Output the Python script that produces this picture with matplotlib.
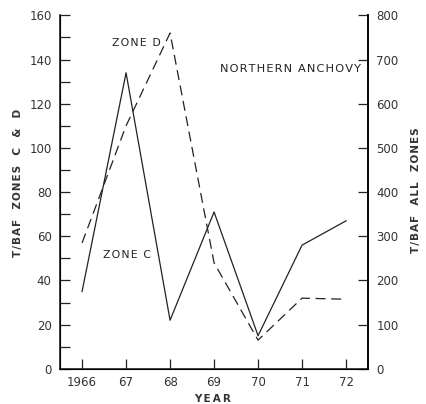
import matplotlib
matplotlib.use("Agg")
import matplotlib.pyplot as plt
from matplotlib.ticker import MultipleLocator

years = [1966, 1967, 1968, 1969, 1970, 1971, 1972]
year_labels = ["1966", "67", "68", "69", "70", "71", "72"]
zone_c = [35, 134, 22, 71, 15, 56, 67]
zone_d = [57, 110, 152, 48, 13, 32, 31.5]

plt.rcParams['font.family'] = ['DejaVu Sans']


def spaced(s, gap='\u200a'):
    # widen letter spacing like the old typeset labels
    return gap.join(s)


fig = plt.figure(figsize=(4.26, 4.04), dpi=100)
ax = fig.add_axes([0.141, 0.087, 0.723, 0.875])

ax.plot(years, zone_c, color='#222222', linewidth=0.9)
ax.plot(years, zone_d, color='#222222', linewidth=0.9, dashes=(8, 4.5))

ax.set_xlim(1965.5, 1972.5)
ax.set_ylim(0, 160)
ax.set_xticks(years)
ax.set_xticklabels(year_labels)
ax.yaxis.set_major_locator(MultipleLocator(20))
ax.yaxis.set_minor_locator(MultipleLocator(10))
ax.spines['top'].set_visible(False)
for s in ['left', 'bottom', 'right']:
    ax.spines[s].set_linewidth(1.2)
    ax.spines[s].set_color('#222222')

ax.tick_params(axis='both', which='both', direction='in', length=7,
               width=0.9, color='#222222', labelsize=8.5, labelcolor='#333333')
ax.tick_params(axis='x', pad=5)
ax.tick_params(axis='y', pad=6)

ax2 = ax.twinx()
ax2.set_ylim(0, 800)
ax2.yaxis.set_major_locator(MultipleLocator(100))
ax2.spines['top'].set_visible(False)
ax2.spines['right'].set_linewidth(1.2)
ax2.tick_params(axis='y', direction='in', length=7, width=0.9,
                color='#222222', labelsize=8.5, labelcolor='#333333', pad=6)

ax.text(1966.68, 147.5, spaced("ZONE D"), fontsize=7.8, color='#222222', va='center')
ax.text(1966.48, 51.6, spaced("ZONE C"), fontsize=7.8, color='#222222', va='center')
ax.text(1969.14, 135.7, spaced("NORTHERN ANCHOVY"), fontsize=8.2,
        color='#222222', va='center')

fig.text(0.042, 0.547, spaced("T/BAF  ZONES  C  &  D"), rotation=90,
         fontsize=7.5, fontweight='bold', color='#333333', ha='center', va='center')
fig.text(0.977, 0.53, spaced("T/BAF  ALL  ZONES"), rotation=90,
         fontsize=7.5, fontweight='bold', color='#333333', ha='center', va='center')
fig.text(0.5, 0.012, spaced("YEAR", '\u2009'), fontsize=7.5, fontweight='bold',
         color='#333333', ha='center', va='center')

fig.savefig("out.png", dpi=100)
